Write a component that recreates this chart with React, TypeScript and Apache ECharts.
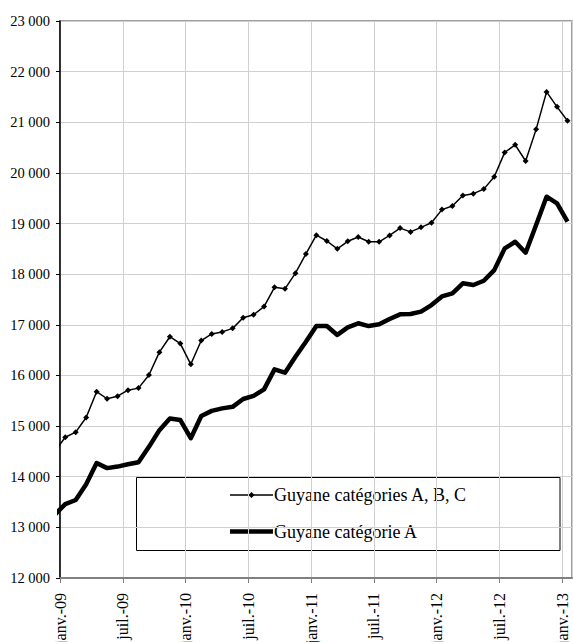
import React, { useEffect, useRef } from 'react';
import * as echarts from 'echarts';

// Monthly observations (first one, déc.-08, sits just left of the plot and is clipped)
const months = [
  'déc.-08',
  'janv.-09', 'févr.-09', 'mars-09', 'avr.-09', 'mai-09', 'juin-09', 'juil.-09', 'août-09', 'sept.-09', 'oct.-09', 'nov.-09', 'déc.-09',
  'janv.-10', 'févr.-10', 'mars-10', 'avr.-10', 'mai-10', 'juin-10', 'juil.-10', 'août-10', 'sept.-10', 'oct.-10', 'nov.-10', 'déc.-10',
  'janv.-11', 'févr.-11', 'mars-11', 'avr.-11', 'mai-11', 'juin-11', 'juil.-11', 'août-11', 'sept.-11', 'oct.-11', 'nov.-11', 'déc.-11',
  'janv.-12', 'févr.-12', 'mars-12', 'avr.-12', 'mai-12', 'juin-12', 'juil.-12', 'août-12', 'sept.-12', 'oct.-12', 'nov.-12', 'déc.-12',
  'janv.-13',
];

const guyaneABC = [
  14500,
  14780, 14880, 15170, 15680, 15540, 15590, 15710, 15750, 16010, 16460, 16765, 16630,
  16220, 16690, 16820, 16860, 16930, 17140, 17200, 17360, 17740, 17710, 18020, 18400,
  18770, 18655, 18500, 18650, 18735, 18640, 18640, 18765, 18910, 18835, 18925, 19015,
  19275, 19345, 19555, 19590, 19680, 19925, 20405, 20555, 20235, 20860, 21600, 21305,
  21030,
];

const guyaneA = [
  13250,
  13460, 13540, 13850, 14270, 14170, 14200, 14245, 14285, 14590, 14920, 15150, 15120,
  14760, 15200, 15300, 15350, 15380, 15535, 15595, 15725, 16120, 16055, 16370, 16665,
  16975, 16975, 16800, 16950, 17030, 16975, 17010, 17115, 17207, 17213, 17260, 17390,
  17560, 17620, 17820, 17786, 17870, 18080, 18510, 18640, 18424, 18970, 19530, 19400,
  19036,
];

const tickLabels = ['janv.-09', 'juil.-09', 'janv.-10', 'juil.-10', 'janv.-11', 'juil.-11', 'janv.-12', 'juil.-12', 'janv.-13'];

const seriesNames = ['Guyane catégories A, B, C', 'Guyane catégorie A'];

const FONT = 'Liberation Serif';

function fmtThousands(v: number): string {
  return String(v).replace(/\B(?=(\d{3})+(?!\d))/g, ' ');
}

// x position of each monthly point: middle of the month, months counted from janv.-09
const toPoints = (vals: number[]) => vals.map((v, i) => [i - 0.5, v]);

export default function App() {
  const ref = useRef<HTMLDivElement>(null);

  useEffect(() => {
    if (!ref.current) return;
    const chart = echarts.init(ref.current, undefined, { renderer: 'svg' });

    const option: any = {
      animation: false,
      backgroundColor: '#ffffff',
      textStyle: { fontFamily: FONT },
      grid: {
        left: 60,
        right: 1,
        top: 21,
        bottom: 64,
        containLabel: false,
        outerBoundsMode: 'none',
        show: true,
        borderColor: '#808080',
        borderWidth: 1.5,
        backgroundColor: 'transparent',
      },
      xAxis: {
        type: 'value',
        min: 0,
        max: 48.93,
        interval: 6,
        axisLine: { show: true, onZero: false, lineStyle: { color: '#808080', width: 2 } },
        axisTick: { show: true, length: 5, lineStyle: { color: '#808080', width: 1 } },
        splitLine: { show: true, lineStyle: { color: '#d0d0d0', width: 1 } },
        axisLabel: {
          rotate: 90,
          margin: 15,
          fontFamily: FONT,
          fontSize: 16,
          color: '#000',
          showMaxLabel: false,
          formatter: (v: number) => {
            const i = Math.round(v / 6);
            return Math.abs(v - i * 6) < 1e-6 ? tickLabels[i] ?? '' : '';
          },
        },
      },
      yAxis: {
        type: 'value',
        min: 12000,
        max: 23000,
        interval: 1000,
        axisLine: { show: true, onZero: false, lineStyle: { color: '#000', width: 1.5 } },
        axisTick: { show: true, length: 4, lineStyle: { color: '#000', width: 1 } },
        splitLine: { show: true, lineStyle: { color: '#d0d0d0', width: 1 } },
        axisLabel: {
          margin: 10,
          fontFamily: FONT,
          fontSize: 14.5,
          color: '#000',
          formatter: (v: number) => fmtThousands(v),
        },
      },
      series: [
        {
          name: seriesNames[0],
          type: 'line',
          data: toPoints(guyaneABC),
          symbol: 'diamond',
          symbolSize: 6,
          showSymbol: true,
          clip: true,
          lineStyle: { color: '#000', width: 1.5 },
          itemStyle: { color: '#000' },
          z: 3,
        },
        {
          name: seriesNames[1],
          type: 'line',
          data: toPoints(guyaneA),
          symbol: 'none',
          clip: true,
          lineStyle: { color: '#000', width: 4.5, join: 'round' },
          itemStyle: { color: '#000' },
          z: 2,
        },
      ],
      graphic: [
        {
          type: 'group',
          z: 100,
          children: [
            {
              type: 'rect',
              shape: { x: 136.5, y: 477.5, width: 423.5, height: 73 },
              style: { fill: '#fff', stroke: '#000', lineWidth: 1 },
            },
            {
              type: 'line',
              shape: { x1: 230, y1: 495, x2: 273, y2: 495 },
              style: { stroke: '#000', lineWidth: 1.5 },
            },
            {
              type: 'polygon',
              shape: { points: [[251.5, 492], [254.5, 495], [251.5, 498], [248.5, 495]] },
              style: { fill: '#000' },
            },
            {
              type: 'text',
              x: 274,
              y: 495,
              style: {
                text: seriesNames[0],
                fontFamily: FONT,
                fontSize: 18,
                fill: '#000',
                verticalAlign: 'middle',
                align: 'left',
              },
            },
            {
              type: 'line',
              shape: { x1: 230, y1: 531.5, x2: 273, y2: 531.5 },
              style: { stroke: '#000', lineWidth: 4.5 },
            },
            {
              type: 'text',
              x: 274,
              y: 531.5,
              style: {
                text: seriesNames[1],
                fontFamily: FONT,
                fontSize: 18,
                fill: '#000',
                verticalAlign: 'middle',
                align: 'left',
              },
            },
          ],
        },
      ],
    };

    chart.setOption(option);
    return () => chart.dispose();
  }, []);

  return (
    <div
      ref={ref}
      style={{ position: 'fixed', left: 0, top: 0, width: 573, height: 642, background: '#fff' }}
      data-months={months.length}
    />
  );
}
